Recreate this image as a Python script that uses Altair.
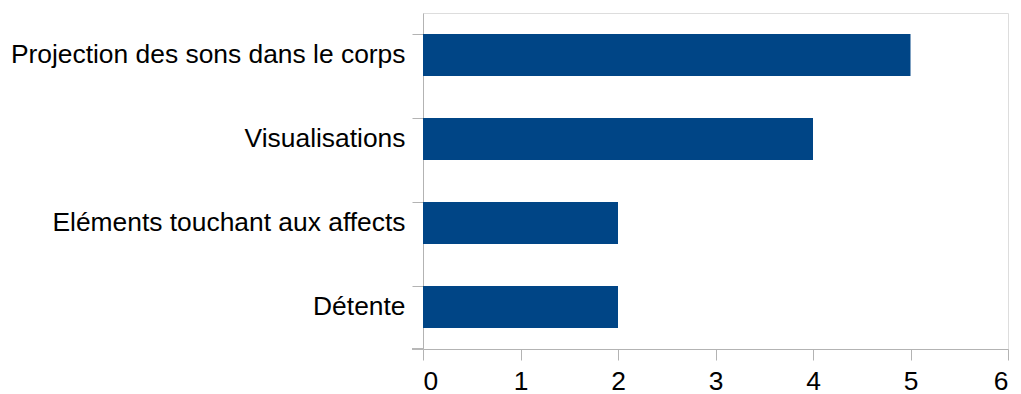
import altair as alt
import pandas as pd

categories = [
    "Projection des sons dans le corps",
    "Visualisations",
    "Eléments touchant aux affects",
    "Détente",
]
values = [5, 4, 2, 2]
x_ticks = [0, 1, 2, 3, 4, 5, 6]

df = pd.DataFrame({"categorie": categories, "valeur": values})

GRID = "#b3b3b3"
FONT = "Liberation Sans"
SIZE = 26.4

bars = alt.Chart(df).mark_bar(color="#004586").encode(
    x=alt.X(
        "valeur:Q",
        scale=alt.Scale(domain=[0, 6], nice=False),
        axis=alt.Axis(
            values=x_ticks, title=None, grid=False, format="d",
            domainColor=GRID, tickColor=GRID, tickSize=11,
            labelFontSize=SIZE, labelColor="#000000", labelFont=FONT,
            labelPadding=8,
        ),
    ),
    y=alt.Y(
        "categorie:N",
        sort=categories,
        scale=alt.Scale(paddingInner=0.5, paddingOuter=0.25),
        axis=alt.Axis(
            title=None, bandPosition=0, domainColor=GRID, tickColor=GRID,
            tickSize=11, labelFontSize=SIZE, labelColor="#000000",
            labelFont=FONT, labelPadding=7, labelLimit=600,
        ),
    ),
)

# closing tick under the last category band
bottom_tick = alt.Chart(df).mark_rule(color=GRID, strokeWidth=1).encode(
    x=alt.value(-11), x2=alt.value(0), y=alt.value(336)
)

chart = (
    alt.layer(bars, bottom_tick)
    .properties(
        width=585,
        height=336,
        autosize=alt.AutoSizeParams(type="none"),
        padding={"left": 423, "top": 13, "right": 13, "bottom": 45},
    )
    .configure_view(stroke=GRID, strokeWidth=1)
    .configure(background="white")
)

chart.save("out.html", embed_options={"renderer": "svg", "actions": False})
